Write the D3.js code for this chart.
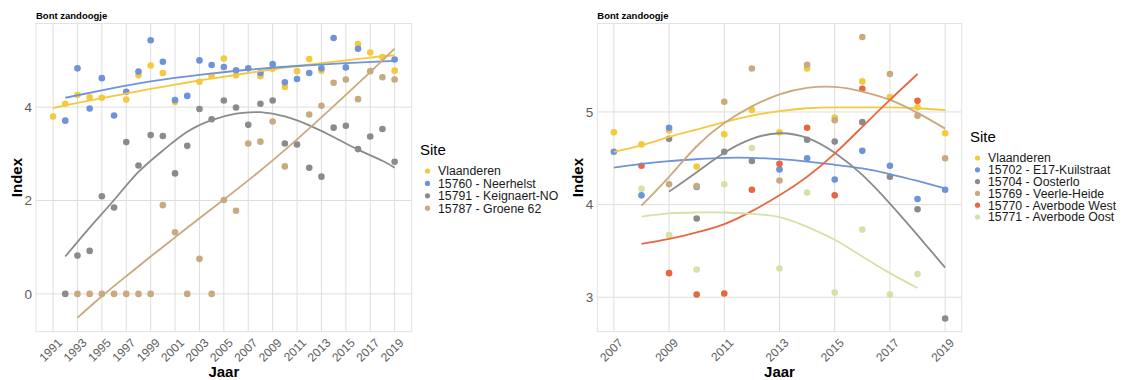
<!DOCTYPE html>
<html>
<head>
<meta charset="utf-8">
<script src="https://cdn.jsdelivr.net/npm/d3@7"></script>
<style>
  body { margin: 0; background: #fff; }
  svg { font-family: "Liberation Sans", Arial, sans-serif; }
</style>
</head>
<body>
<div id="chart"></div>
<script>
// ---- left panel data (1991-2019) ----
const sitesLeft = ["Vlaanderen", "15760 - Neerhelst", "15791 - Keignaert-NO", "15787 - Groene 62"];
const colorsLeft = ["#f4c93e", "#6f93d8", "#8b8b8b", "#c9a97f"];
const yearTicksLeft = [1991, 1993, 1995, 1997, 1999, 2001, 2003, 2005, 2007, 2009, 2011, 2013, 2015, 2017, 2019];
const indexTicksLeft = [0, 2, 4];

const vlaanderenL = [[1991,3.80],[1992,4.07],[1993,4.26],[1994,4.21],[1995,4.20],[1997,4.16],[1998,4.68],[1999,4.89],[2000,4.73],[2001,4.11],[2003,4.54],[2004,4.67],[2005,5.04],[2006,4.68],[2008,4.66],[2009,4.82],[2010,4.43],[2011,4.77],[2012,5.03],[2013,4.78],[2016,5.35],[2017,5.17],[2018,5.07],[2019,4.78]];
const neerhelstL = [[1992,3.71],[1993,4.83],[1994,3.97],[1995,4.62],[1996,3.82],[1997,4.33],[1998,4.76],[1999,5.43],[2000,4.97],[2001,4.15],[2002,4.24],[2003,5.00],[2004,4.90],[2005,4.86],[2006,4.79],[2007,4.83],[2008,4.73],[2009,4.92],[2010,4.53],[2011,4.60],[2012,4.73],[2013,4.83],[2014,5.48],[2015,4.85],[2016,5.25],[2019,5.02]];
const keignaertL = [[1992,0],[1993,0.82],[1994,0.92],[1995,2.09],[1996,1.85],[1997,3.25],[1998,2.75],[1999,3.40],[2000,3.38],[2001,2.58],[2002,3.17],[2003,3.96],[2004,3.74],[2005,4.14],[2006,3.99],[2007,3.62],[2008,4.07],[2009,4.14],[2010,3.22],[2011,3.20],[2012,2.70],[2013,2.51],[2014,3.56],[2015,3.60],[2016,3.10],[2017,3.37],[2018,3.53],[2019,2.83]];
const groeneL = [[1993,0],[1994,0],[1995,0],[1996,0],[1997,0],[1998,0],[1999,0],[2000,1.90],[2001,1.32],[2002,0],[2003,0.75],[2004,0],[2005,2.01],[2006,1.78],[2007,3.22],[2008,3.26],[2009,3.69],[2010,2.73],[2012,3.84],[2013,4.03],[2014,4.52],[2015,4.59],[2016,4.17],[2017,4.77],[2018,4.64],[2019,4.59]];

// smoothed trend lines
const vlaanderenTrendL = [[1991,3.98],[1993,4.09],[1995,4.19],[1997,4.29],[1999,4.39],[2001,4.48],[2003,4.57],[2005,4.65],[2007,4.73],[2009,4.81],[2011,4.88],[2013,4.94],[2015,5.00],[2017,5.06],[2019,5.11]];
const neerhelstTrendL = [[1992,4.20],[1995,4.36],[1999,4.55],[2003,4.69],[2007,4.80],[2011,4.88],[2015,4.94],[2019,4.99]];
const keignaertTrendL = [[1992,0.80],[1994,1.42],[1996,2.01],[1998,2.61],[2000,3.07],[2002,3.47],[2004,3.72],[2006,3.86],[2008,3.89],[2010,3.80],[2012,3.61],[2014,3.36],[2016,3.09],[2018,2.85],[2019,2.70]];
const groeneTrendL = [[1993,-0.51],[1995,-0.05],[1997,0.38],[1999,0.80],[2001,1.21],[2003,1.62],[2005,2.02],[2007,2.43],[2009,2.86],[2011,3.31],[2013,3.78],[2015,4.26],[2017,4.75],[2019,5.25]];

// ---- right panel data (2007-2019) ----
const sitesRight = ["Vlaanderen", "15702 - E17-Kuilstraat", "15704 - Oosterlo", "15769 - Veerle-Heide", "15770 - Averbode West", "15771 - Averbode Oost"];
const colorsRight = ["#f4c93e", "#6f93d8", "#8b8b8b", "#c9a97f", "#e8673e", "#d5e1a6"];
const yearTicksRight = [2007, 2009, 2011, 2013, 2015, 2017, 2019];
const indexTicksRight = [3, 4, 5];

const vlaanderenR = [[2007,4.78],[2008,4.65],[2009,4.80],[2010,4.41],[2011,4.76],[2012,5.02],[2013,4.78],[2014,5.47],[2015,4.94],[2016,5.33],[2017,5.16],[2018,5.05],[2019,4.77]];
const kuilstraatR = [[2007,4.57],[2008,4.10],[2009,4.83],[2010,4.19],[2013,4.38],[2014,4.50],[2015,4.27],[2016,4.58],[2017,4.42],[2018,4.06],[2019,4.16]];
const oosterloR = [[2009,4.71],[2010,3.85],[2011,4.57],[2012,4.47],[2014,4.70],[2015,4.68],[2016,4.89],[2017,4.30],[2018,3.95],[2019,2.77]];
const veerleR = [[2009,4.22],[2010,4.20],[2011,5.11],[2012,5.47],[2013,4.26],[2014,5.51],[2015,4.91],[2016,5.81],[2017,5.41],[2018,4.96],[2019,4.50]];
const averbodeWestR = [[2008,4.42],[2009,3.26],[2010,3.03],[2011,3.04],[2012,4.16],[2013,4.44],[2014,4.83],[2015,4.10],[2016,5.25],[2018,5.12]];
const averbodeOostR = [[2008,4.17],[2009,3.67],[2010,3.30],[2011,4.22],[2012,4.61],[2013,3.31],[2014,4.13],[2015,3.05],[2016,3.73],[2017,3.03],[2018,3.25]];

const vlaanderenTrendR = [[2007,4.57],[2008,4.64],[2009,4.73],[2010,4.81],[2011,4.89],[2012,4.96],[2013,5.01],[2014,5.04],[2015,5.05],[2016,5.05],[2017,5.05],[2018,5.04],[2019,5.02]];
const kuilstraatTrendR = [[2007,4.40],[2008,4.44],[2009,4.47],[2010,4.49],[2011,4.505],[2012,4.505],[2013,4.49],[2014,4.465],[2015,4.43],[2016,4.39],[2017,4.33],[2018,4.255],[2019,4.175]];
const oosterloTrendR = [[2009,4.14],[2010,4.35],[2011,4.56],[2012,4.71],[2013,4.77],[2014,4.72],[2015,4.56],[2016,4.32],[2017,4.01],[2018,3.67],[2019,3.32]];
const veerleTrendR = [[2008,3.99],[2009,4.30],[2010,4.63],[2011,4.88],[2012,5.06],[2013,5.19],[2014,5.26],[2015,5.27],[2016,5.22],[2017,5.13],[2018,4.99],[2019,4.82]];
const averbodeWestTrendR = [[2008,3.575],[2009,3.63],[2010,3.70],[2011,3.79],[2012,3.93],[2013,4.10],[2014,4.30],[2015,4.55],[2016,4.84],[2017,5.13],[2018,5.41]];
const averbodeOostTrendR = [[2008,3.87],[2009,3.905],[2010,3.915],[2011,3.915],[2012,3.90],[2013,3.865],[2014,3.76],[2015,3.62],[2016,3.44],[2017,3.26],[2018,3.10]];

const svg = d3.select("#chart")
    .append("svg")
    .attr("width", 1127)
    .attr("height", 380);

function drawPanel(p) {
    const x = d3.scaleLinear().domain(p.xDomain).range([p.left, p.right]);
    const y = d3.scaleLinear().domain(p.yDomain).range([p.bottom, p.top]);
    const g = svg.append("g");

    // grid
    g.append("g").selectAll("line")
        .data(p.xTicks).join("line")
        .attr("x1", d => x(d)).attr("x2", d => x(d))
        .attr("y1", p.top).attr("y2", p.bottom)
        .attr("stroke", "#dedede").attr("stroke-width", 1);
    g.append("g").selectAll("line")
        .data(p.yTicks).join("line")
        .attr("x1", p.left).attr("x2", p.right)
        .attr("y1", d => y(d)).attr("y2", d => y(d))
        .attr("stroke", "#dedede").attr("stroke-width", 1);
    g.append("rect")
        .attr("x", p.left).attr("y", p.top)
        .attr("width", p.right - p.left).attr("height", p.bottom - p.top)
        .attr("fill", "none").attr("stroke", "#e2e2e2");

    // points
    p.series.forEach((s, i) => {
        g.append("g").selectAll("circle")
            .data(s).join("circle")
            .attr("cx", d => x(d[0]))
            .attr("cy", d => y(d[1]))
            .attr("r", 3.3)
            .attr("fill", p.colors[i]);
    });

    // smooth lines
    const line = d3.line()
        .x(d => x(d[0]))
        .y(d => y(d[1]))
        .curve(d3.curveNatural);
    p.trends.forEach((t, i) => {
        g.append("path")
            .attr("d", line(t))
            .attr("fill", "none")
            .attr("stroke", p.colors[i])
            .attr("stroke-width", 1.8);
    });

    // axis tick labels
    g.append("g").selectAll("text")
        .data(p.yTicks).join("text")
        .attr("x", p.left - 4)
        .attr("y", d => y(d))
        .attr("dy", "0.35em")
        .attr("text-anchor", "end")
        .attr("fill", "#5c5c5c")
        .style("font-size", "13.5px")
        .text(d => d);
    g.append("g").selectAll("text")
        .data(p.xTicks).join("text")
        .attr("transform", d => `translate(${x(d) + 4},${p.bottom + 6}) rotate(-45)`)
        .attr("dy", "0.7em")
        .attr("text-anchor", "end")
        .attr("fill", "#5c5c5c")
        .style("font-size", "12px")
        .text(d => d);

    // titles
    g.append("text")
        .attr("x", p.left).attr("y", p.top - 5)
        .style("font-size", "9.5px").style("font-weight", "bold")
        .text("Bont zandoogje");
    g.append("text")
        .attr("x", (p.left + p.right) / 2).attr("y", 377)
        .attr("text-anchor", "middle")
        .style("font-size", "15px").style("font-weight", "bold")
        .text("Jaar");
    g.append("text")
        .attr("transform", `translate(${p.left - 14},${(p.top + p.bottom) / 2}) rotate(-90)`)
        .attr("text-anchor", "middle")
        .style("font-size", "15px").style("font-weight", "bold")
        .text("Index");

    // legend
    const lg = g.append("g");
    lg.append("text")
        .attr("x", p.legendX).attr("y", p.legendY)
        .attr("dy", "0.35em")
        .style("font-size", "15px")
        .text("Site");
    const rows = lg.selectAll("g")
        .data(p.sites).join("g")
        .attr("transform", (d, i) => `translate(${p.legendX},${p.legendY + 21 + i * p.legendStep})`);
    rows.append("circle")
        .attr("cx", 7.5).attr("cy", 0).attr("r", 2.6)
        .attr("fill", (d, i) => p.colors[i]);
    rows.append("text")
        .attr("x", 18).attr("y", 0)
        .attr("dy", "0.35em")
        .style("font-size", p.legendFont)
        .attr("fill", "#1a1a1a")
        .text(d => d);
}

drawPanel({
    left: 36, right: 411.7, top: 23.5, bottom: 331.7,
    xDomain: [1989.6, 2020.4], yDomain: [-0.81, 5.79],
    xTicks: yearTicksLeft, yTicks: indexTicksLeft,
    series: [vlaanderenL, neerhelstL, keignaertL, groeneL],
    trends: [vlaanderenTrendL, neerhelstTrendL, keignaertTrendL, groeneTrendL],
    colors: colorsLeft, sites: sitesLeft,
    legendX: 420, legendY: 150, legendStep: 12.4, legendFont: "12.3px"
});

drawPanel({
    left: 597.3, right: 961.7, top: 23.5, bottom: 331.7,
    xDomain: [2006.4, 2019.6], yDomain: [2.628, 5.955],
    xTicks: yearTicksRight, yTicks: indexTicksRight,
    series: [vlaanderenR, kuilstraatR, oosterloR, veerleR, averbodeWestR, averbodeOostR],
    trends: [vlaanderenTrendR, kuilstraatTrendR, oosterloTrendR, veerleTrendR, averbodeWestTrendR, averbodeOostTrendR],
    colors: colorsRight, sites: sitesRight,
    legendX: 970, legendY: 137, legendStep: 11.8, legendFont: "12.3px"
});
</script>
</body>
</html>
